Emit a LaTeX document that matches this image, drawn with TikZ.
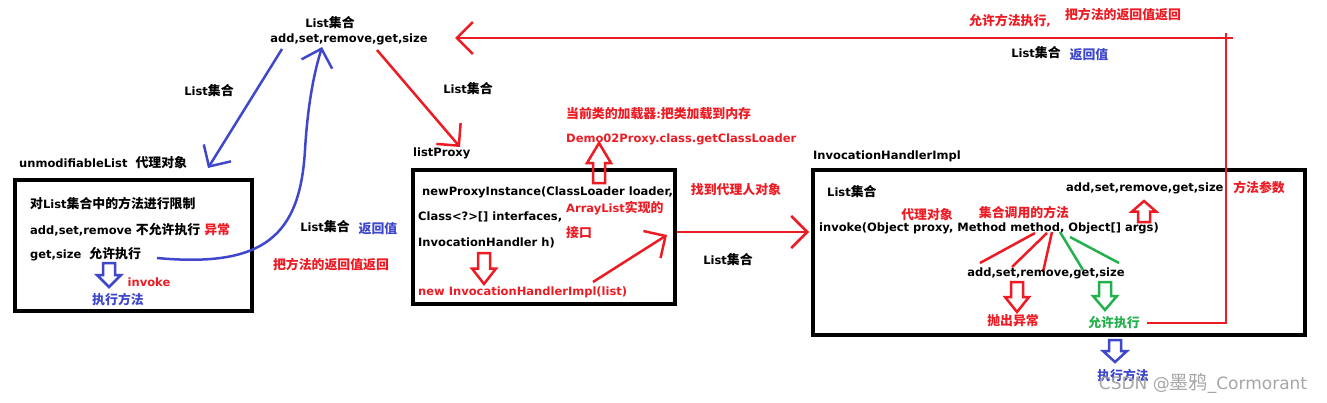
\documentclass[tikz,border=0pt]{standalone}
\usepackage{fontspec}
\setmainfont{DejaVu Sans}
\newfontfamily\cjk{Noto Sans CJK SC}[Scale=1.12]
\usetikzlibrary{arrows.meta}
\definecolor{pred}{HTML}{ED1C24}
\definecolor{pblue}{HTML}{3F48CC}
\definecolor{pgreen}{HTML}{22B14C}
\newcommand\zh[1]{{\cjk #1}}
% hollow block arrow: x, base y, tip y, colour
\newcommand\hollowarr[4]{%
  \draw[#4,line width=2.5pt,line join=miter]
    ({#1-6},#2) -- ({#1+6},#2) -- ({#1+6},{#2+0.5*(#3-#2)}) -- ({#1+12},{#2+0.5*(#3-#2)})
    -- (#1,#3) -- ({#1-12},{#2+0.5*(#3-#2)}) -- ({#1-6},{#2+0.5*(#3-#2)}) -- cycle;}
\begin{document}
\begin{tikzpicture}[x=1pt,y=-1pt,
  txt/.style={inner sep=0pt,font=\fontsize{11.5}{13}\selectfont\bfseries},
  lt/.style={txt,anchor=west},
  box/.style={draw=black,line width=3.5pt,inner sep=0pt,anchor=north west},
  hand/.style={line width=2.5pt,-{Straight Barb[length=16pt,width=32pt]}},
  plain/.style={line width=2.5pt},
]
\useasboundingbox[fill=white] (0,0) rectangle (1327,402);

% ---- top label
\node[txt] (t1) at (330,23) {List\zh{集合}};
\node[txt] (t2) at (349,39) {add,set,remove,get,size};
\node[txt] (l1) at (209,91) {List\zh{集合}};
\node[txt] (l2) at (468,89) {List\zh{集合}};

% ---- unmodifiableList box
\node[lt] (u0) at (19,163) {unmodifiableList\hspace{8pt}\zh{代理对象}};
\node[box,minimum width=237pt,minimum height=131pt] (ubox) at (13,178) {};
\node[lt] (u1) at (30,204) {\zh{对}List\zh{集合中的方法进行限制}};
\node[lt] (u2) at (30,230) {add,set,remove \zh{不允许执行} \textcolor{pred}{\zh{异常}}};
\node[lt] (u3) at (30,254) {get,size\hspace{8pt}\zh{允许执行}};
\hollowarr{109}{263}{287}{pblue}
\node[txt,pred] (u4) at (149,282) {invoke};
\node[txt,pblue] (u5) at (118,300) {\zh{执行方法}};

\coordinate (bs) at (282,49);
\coordinate (be) at (208,168);
\draw[hand,pblue] (bs) -- (be);
\coordinate (cs) at (157,258);
\coordinate (ce) at (322,47);
\draw[hand,pblue] (cs) .. controls (265,268) and (300,235) .. (305,150)
  .. controls (308,100) and (315,70) .. (ce);
\node[txt] (r1) at (325,227) {List\zh{集合}};
\node[txt,pblue] (r2) at (378,229) {\zh{返回值}};
\node[txt,pred] (r3) at (331,265) {\zh{把方法的返回值返回}};

\coordinate (ra) at (377,50);
\coordinate (rb) at (460,147);
\draw[hand,pred] (ra) -- (rb);

% ---- listProxy box
\node[lt] (p0) at (413,153) {listProxy};
\node[box,minimum width=262pt,minimum height=134pt] (pbox) at (411,168) {};
\node[lt] (p1) at (422,192) {newProxyInstance(ClassLoader loader,};
\node[lt] (p2) at (418,217) {Class<?>[] interfaces,};
\node[lt] (p3) at (418,243) {InvocationHandler h)};
\node[lt,pred] (p4) at (566,208) {ArrayList\zh{实现的}};
\node[lt,pred] (p5) at (566,233) {\zh{接口}};
\hollowarr{484}{253}{284}{pred}
\node[lt,pred] (p6) at (418,292) {new InvocationHandlerImpl(list)};
\coordinate (pa) at (593,282);
\coordinate (pb) at (667,235);
\draw[hand,pred] (pa) -- (pb);
\hollowarr{599}{183}{143}{pred}
\node[lt,pred] (c1) at (566,114) {\zh{当前类的加载器}:\zh{把类加载到内存}};
\node[lt,pred] (c2) at (566,139) {Demo02Proxy.class.getClassLoader};

\node[txt,pred] (f1) at (736,190) {\zh{找到代理人对象}};
\coordinate (ha) at (677,232);
\coordinate (hb) at (809,232);
\draw[hand,pred] (ha) -- (hb);
\node[txt] (f2) at (728,260) {List\zh{集合}};

% ---- InvocationHandlerImpl box
\node[lt] (i0) at (813,156) {InvocationHandlerImpl};
\node[box,minimum width=492pt,minimum height=165pt] (ibox) at (811,168) {};
\node[lt] (i1) at (827,192) {List\zh{集合}};
\node[lt] (i2) at (1066,188) {add,set,remove,get,size};
\node[txt,pred] (i3) at (1259,188) {\zh{方法参数}};
\hollowarr{1144}{222}{201}{pred}
\node[txt,pred] (i4) at (927,215) {\zh{代理对象}};
\node[txt,pred] (i5) at (1024,213) {\zh{集合调用的方法}};
\node[lt] (i6) at (819,228) {invoke(Object proxy, Method method, Object[] args)};
\draw[plain,pred] (1035,233) -- (980,263);
\draw[plain,pred] (1047,233) -- (1012,267);
\draw[plain,pred] (1052,232) -- (1043,272);
\draw[plain,pgreen] (1060,232) -- (1083,270);
\draw[plain,pgreen] (1070,237) -- (1119,263);
\node[txt] (i7) at (1046,273) {add,set,remove,get,size};
\hollowarr{1017}{282}{312}{pred}
\hollowarr{1105}{282}{310}{pgreen}
\node[txt,pred] (i8) at (1013,321) {\zh{抛出异常}};
\node[txt,pgreen] (i9) at (1114,323) {\zh{允许执行}};
\hollowarr{1115}{340}{362}{pblue}
\node[txt,pblue] (i10) at (1123,376) {\zh{执行方法}};

% ---- return path
\draw[plain,pred,line join=miter] (1147,323) -- (1226,323) -- (1226,33);
\coordinate (ta) at (1233,38);
\coordinate (tb) at (455,38);
\draw[hand,pred] (ta) -- (tb);
\node[txt,pred] (k1) at (1010,21) {\zh{允许方法执行},};
\node[txt,pred] (k2) at (1123,15) {\zh{把方法的返回值返回}};
\node[txt] (k3) at (1036,53) {List\zh{集合}};
\node[txt,pblue] (k4) at (1089,55) {\zh{返回值}};

% ---- watermark
\node[inner sep=0pt,font=\fontsize{17}{19}\selectfont,text=black!35] (wm) at (1203,383) {CSDN @\zh{墨鸦}\_Cormorant};
\end{tikzpicture}
\end{document}
